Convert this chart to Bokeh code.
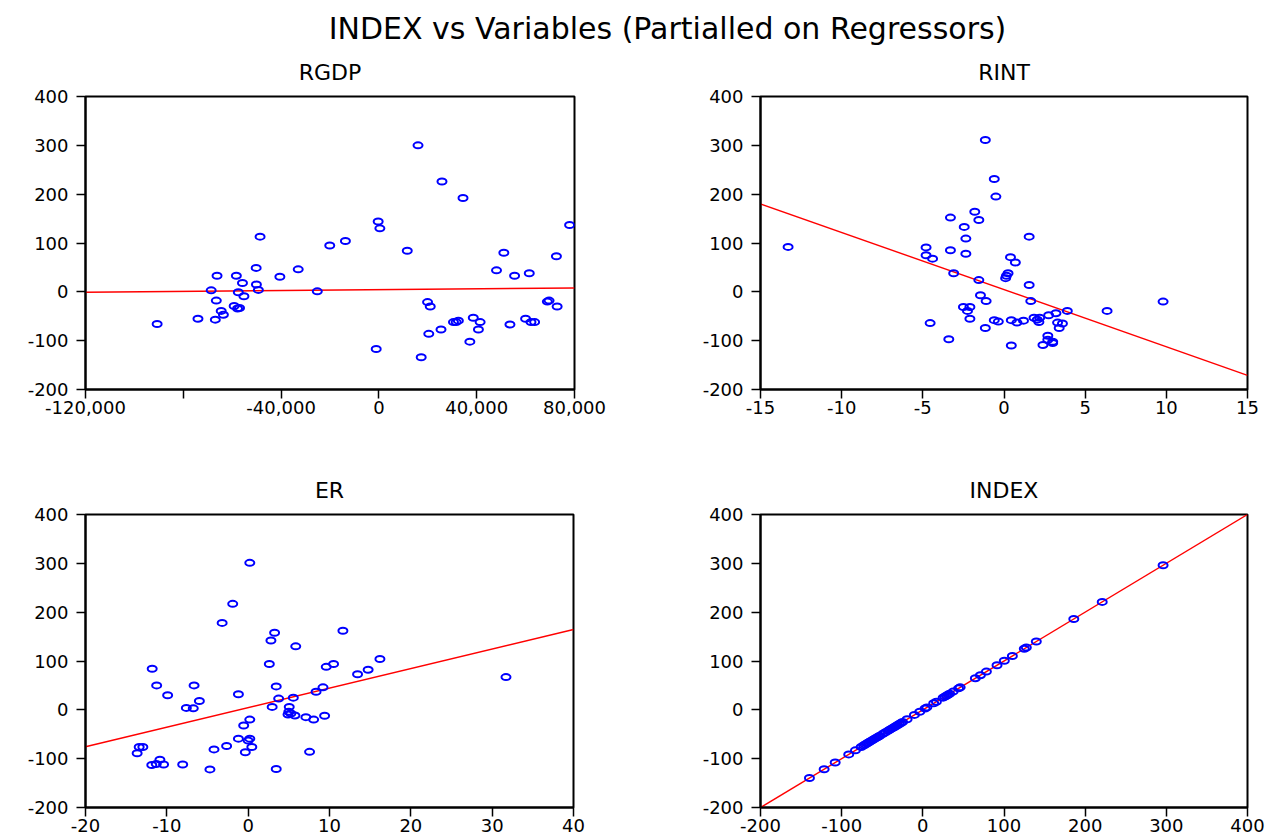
from bokeh.plotting import figure
from bokeh.layouts import column, row
from bokeh.models import Range1d, FixedTicker
from bokeh.core.properties import value
from bokeh.embed import file_html
from bokeh.resources import INLINE

main_title = "INDEX vs Variables (Partialled on Regressors)"
panel_titles = ["RGDP", "RINT", "ER", "INDEX"]

# RGDP panel
rgdp_x = [-90700, -74000, -68600, -66200, -66500, -66900, -64500, -63600, -58300, -55800,
          -57500, -55200, -59200, -57800, -57000, -50200, -50100, -49300, -48600, -40500,
          -33000, -25200, -20100, -13700, -300, 400, -1100, 11600, 16000, 17300,
          19900, 21000, 20400, 25800, 25400, 34400, 30500, 31600, 32500, 38600,
          41400, 40700, 37200, 48100, 51100, 55500, 53600, 61500, 60000, 62200,
          63700, 68900, 69600, 72900, 72600, 78000]
rgdp_y = [-66, -55, 3, 33, -18, -57, -39, -47, 33, 18,
          -1, -9, -29, -34, -33, 49, 15, 4, 113, 31,
          46, 1, 95, 104, 144, 130, -117, 84, 300, -134,
          -21, -30, -86, 226, -77, 192, -62, -62, -59, -53,
          -62, -77, -102, 44, 80, 33, -67, 38, -55, -62,
          -62, -20, -18, -30, 73, 137]

# RINT panel
rint_x = [-13.3, -4.8, -4.8, -4.4, -4.55, -3.3, -3.3, -3.4, -3.1, -2.45,
          -2.35, -2.35, -1.8, -1.55, -1.55, -2.5, -2.1, -2.25, -2.1, -1.45,
          -1.1, -1.15, -1.15, -0.6, -0.5, -0.6, -0.35, 0.25, 0.15, 0.1,
          0.4, 0.7, 0.45, 0.45, 0.8, 1.2, 1.55, 1.55, 1.65, 1.85,
          2.05, 2.15, 2.2, 2.75, 2.7, 2.7, 3.0, 3.0, 2.4, 3.2,
          3.3, 3.6, 3.4, 3.9, 6.35, 9.8]
rint_y = [92, 91, 75, 68, -64, 152, 85, -97, 38, 133,
          109, 78, 164, 147, 24, -31, -31, -39, -55, -7,
          -19, -74, 311, 231, 195, -58, -61, 38, 33, 28,
          71, 60, -58, -110, -63, -59, 113, 14, -19, -53,
          -57, -62, -53, -48, -90, -98, -102, -105, -109, -44,
          -63, -65, -74, -39, -39, -20]

# ER panel
er_x = [0.2, -1.9, -3.2, 3.25, 2.8, 5.85, 11.65, 2.6, -11.8, -11.25,
        -9.9, -6.65, -6.0, -7.6, -6.75, -1.2, 3.45, 3.75, 2.95, 5.55,
        5.05, 5.0, 5.25, 4.9, 5.75, 7.1, 8.05, 9.4, 8.35, 9.2,
        9.6, 10.5, 13.45, 14.75, 16.2, 31.7, 0.2, -0.55, -1.2, 0.2,
        0.0, 0.45, -0.35, -2.65, -4.2, -4.7, 3.45, 7.55, -8.05, -13.65,
        -13.4, -12.95, -11.85, -11.3, -10.85, -10.4]
er_y = [301, 217, 178, 158, 142, 130, 162, 94, 84, 50,
        30, 50, 18, 4, 3, 32, 48, 23, 6, 25,
        6, -4, -7.5, -9.5, -11.5, -15, -20, -12, 37, 46,
        88, 94, 73, 82, 104, 67, -20, -32, -59, -59,
        -63, -76, -87, -74, -81, -122, -121, -86, -112, -89,
        -76, -76, -113, -111, -102, -112]

# INDEX panel (INDEX against itself)
index_vals = [-139.7, -121.6, -108, -91.3, -83, -76, -73, -71, -69, -67,
              -65, -63, -61, -59, -57, -55, -53, -49, -46, -43,
              -41, -39, -37, -35, -33, -31, -29, -27, -25, -19.4,
              -10.4, -3.8, 2.8, 5, 13.4, 16.7, 25, 27, 29, 31,
              33, 37.3, 44, 46, 64.7, 70.9, 78.3, 91.4, 100.4, 110.3,
              125, 127.5, 139.8, 186, 221, 296]

# fitted lines: (intercept, slope)
fit_rgdp = (4.4, 4.5e-5)
fit_rint = (4.5, -11.7)
fit_er = (4.4, 4.0)
fit_index = (0.0, 1.0)

# axes
y_lim = (-200, 400)
y_ticks = [-200, -100, 0, 100, 200, 300, 400]
y_labels = ["-200", "-100", "0", "100", "200", "300", "400"]
rgdp_lim = (-120000, 80000)
rgdp_ticks = [-120000, -80000, -40000, 0, 40000, 80000]
rgdp_labels = ["-120,000", "", "-40,000", "0", "40,000", "80,000"]
rint_lim = (-15, 15)
rint_ticks = [-15, -10, -5, 0, 5, 10, 15]
rint_labels = ["-15", "-10", "-5", "0", "5", "10", "15"]
er_lim = (-20, 40)
er_ticks = [-20, -10, 0, 10, 20, 30, 40]
er_labels = ["-20", "-10", "0", "10", "20", "30", "40"]
index_lim = (-200, 400)
index_ticks = [-200, -100, 0, 100, 200, 300, 400]
index_labels = ["-200", "-100", "0", "100", "200", "300", "400"]

FONT = "DejaVu Sans"


def make_panel(title, xs, ys, xlim, xticks, xlabels, fit, w, h, bl, br, bt, bb):
    p = figure(width=w, height=h, x_range=Range1d(*xlim), y_range=Range1d(*y_lim),
               output_backend="svg", toolbar_location=None,
               min_border_left=bl, min_border_right=br,
               min_border_top=bt, min_border_bottom=bb)
    p.title.text = title
    p.title.align = "center"
    p.title.text_font = FONT
    p.title.text_font_size = "22px"
    p.title.text_font_style = "normal"
    p.title.text_color = "black"
    p.title.standoff = 23
    p.xgrid.visible = False
    p.ygrid.visible = False
    p.outline_line_color = "black"
    p.outline_line_width = 2
    p.background_fill_color = "white"
    p.border_fill_color = "white"

    p.xaxis.ticker = FixedTicker(ticks=xticks)
    p.xaxis.major_label_overrides = {t: l for t, l in zip(xticks, xlabels)}
    p.yaxis.ticker = FixedTicker(ticks=y_ticks)
    p.yaxis.major_label_overrides = {t: l for t, l in zip(y_ticks, y_labels)}
    for ax in (p.xaxis, p.yaxis):
        ax.minor_tick_line_color = None
        ax.major_tick_in = 0
        ax.major_tick_out = 9
        ax.major_tick_line_color = "black"
        ax.major_tick_line_width = 1.5
        ax.axis_line_color = "black"
        ax.axis_line_width = 2
        ax.major_label_text_font = FONT
        ax.major_label_text_font_size = "18px"
        ax.major_label_text_color = "black"
    p.xaxis.major_label_standoff = 2
    p.yaxis.major_label_standoff = 8

    p.line([xlim[0], xlim[1]], [fit[0] + fit[1] * xlim[0], fit[0] + fit[1] * xlim[1]],
           line_color="#FF0000", line_width=1.4)
    p.ellipse(x=xs, y=ys, width=9, height=6, width_units="screen", height_units="screen",
              fill_color=None, line_color="#0000FF", line_width=2)
    return p


p1 = make_panel(panel_titles[0], rgdp_x, rgdp_y, rgdp_lim, rgdp_ticks, rgdp_labels, fit_rgdp,
                640, 412, 85, 66, 50, 69)
p2 = make_panel(panel_titles[1], rint_x, rint_y, rint_lim, rint_ticks, rint_labels, fit_rint,
                640, 412, 120, 33, 50, 69)
p3 = make_panel(panel_titles[2], er_x, er_y, er_lim, er_ticks, er_labels, fit_er,
                640, 382, 85, 67, 56, 33)
p4 = make_panel(panel_titles[3], index_vals, index_vals, index_lim, index_ticks, index_labels, fit_index,
                640, 382, 120, 33, 56, 33)

tf = figure(width=1280, height=46, x_range=Range1d(0, 1280), y_range=Range1d(0, 46),
            output_backend="svg", toolbar_location=None, min_border=0)
tf.axis.visible = False
tf.xgrid.visible = False
tf.ygrid.visible = False
tf.outline_line_color = None
tf.text(x=[667], y=[18], text=[main_title], text_font=value(FONT), text_font_size="30px",
        text_align="center", text_baseline="alphabetic", text_color="black")

layout = column(tf, row(p1, p2), row(p3, p4))
open("out.html", "w").write(file_html(layout, INLINE))
